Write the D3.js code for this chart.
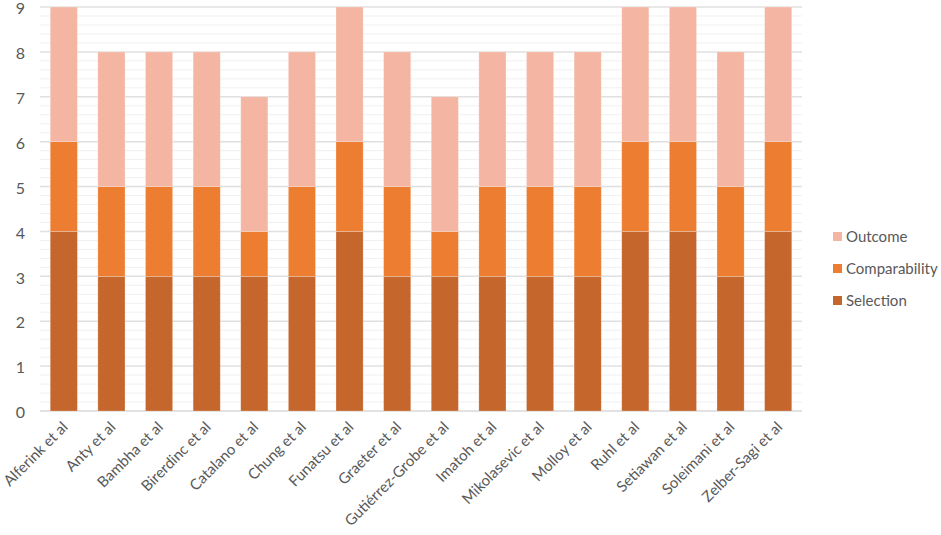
<!DOCTYPE html>
<html>
<head>
<meta charset="utf-8">
<script src="https://cdn.jsdelivr.net/npm/d3@7"></script>
<style>
  body { margin: 0; background: #fff; }
  text { font-family: Lato, "Open Sans", sans-serif; fill: #595959; }
</style>
</head>
<body>
<svg></svg>
<script>
const width = 941;
const height = 535;

const studies = [
    "Alferink et al", "Anty et al", "Bambha et al", "Birerdinc et al",
    "Catalano et al", "Chung et al", "Funatsu et al", "Graeter et al",
    "Gutiérrez-Grobe et al", "Imatoh et al", "Mikolasevic et al", "Molloy et al",
    "Ruhl et al", "Setiawan et al", "Soleimani et al", "Zelber-Sagi et al"
];
const selection     = [4, 3, 3, 3, 3, 3, 4, 3, 3, 3, 3, 3, 4, 4, 3, 4];
const comparability = [2, 2, 2, 2, 1, 2, 2, 2, 1, 2, 2, 2, 2, 2, 2, 2];
const outcome       = [3, 3, 3, 3, 3, 3, 3, 3, 3, 3, 3, 3, 3, 3, 3, 3];

const seriesNames = ["Selection", "Comparability", "Outcome"];
const seriesColors = ["#C5662C", "#ED7D31", "#F4B6A2"];
const yTicks = [0, 1, 2, 3, 4, 5, 6, 7, 8, 9];

const rows = studies.map((s, i) => ({
    study: s,
    Selection: selection[i],
    Comparability: comparability[i],
    Outcome: outcome[i]
}));

const svg = d3.select("svg")
    .attr("width", width)
    .attr("height", height);

const x = d3.scaleBand()
    .domain(studies)
    .range([40, 802])
    .paddingInner(0.43)
    .paddingOuter(0.215);

const y = d3.scaleLinear()
    .domain([0, 9])
    .range([411, 7]);

// Minor gridlines every 0.2
const minor = d3.range(0, 9.001, 0.2).filter(v => Math.abs(v - Math.round(v)) > 0.01);
svg.append("g")
    .selectAll("line")
    .data(minor)
    .join("line")
    .attr("x1", 40).attr("x2", 802)
    .attr("y1", d => y(d)).attr("y2", d => y(d))
    .attr("stroke", "#f0f0f0")
    .attr("stroke-width", 1);

// Major gridlines
svg.append("g")
    .selectAll("line")
    .data(yTicks)
    .join("line")
    .attr("x1", 40).attr("x2", 802)
    .attr("y1", d => y(d)).attr("y2", d => y(d))
    .attr("stroke", d => d === 0 ? "#d9d9d9" : "#e0e0e0")
    .attr("stroke-width", 1.5);

// Y tick labels
svg.append("g")
    .selectAll("text")
    .data(yTicks)
    .join("text")
    .attr("x", 25)
    .attr("y", d => y(d) + 1.5)
    .attr("dy", "0.36em")
    .attr("text-anchor", "end")
    .attr("font-size", 16)
    .text(d => d);

const stack = d3.stack().keys(seriesNames)(rows);

svg.append("g")
    .selectAll("g")
    .data(stack)
    .join("g")
    .attr("fill", (d, i) => seriesColors[i])
    .selectAll("rect")
    .data(d => d)
    .join("rect")
    .attr("x", d => x(d.data.study))
    .attr("width", x.bandwidth())
    .attr("y", d => y(d[1]))
    .attr("height", d => y(d[0]) - y(d[1]))
    .attr("stroke", "#fff")
    .attr("stroke-opacity", 0.35)
    .attr("stroke-width", 0.7);

// X labels, rotated
svg.append("g")
    .selectAll("text")
    .data(studies)
    .join("text")
    .attr("transform", d => `translate(${x(d) + x.bandwidth() / 2 + 5},${428}) rotate(-45)`)
    .attr("text-anchor", "end")
    .attr("font-size", 15)
    .text(d => d);

// Legend (Outcome on top)
const legendItems = seriesNames.slice().reverse();
const legendColors = seriesColors.slice().reverse();
const legend = svg.append("g")
    .selectAll("g")
    .data(legendItems)
    .join("g")
    .attr("transform", (d, i) => `translate(833,${237 + i * 32})`);

legend.append("rect")
    .attr("x", 0).attr("y", -5)
    .attr("width", 9).attr("height", 9)
    .attr("fill", (d, i) => legendColors[i]);

legend.append("text")
    .attr("x", 13)
    .attr("y", 0)
    .attr("dy", "0.35em")
    .attr("font-size", 15)
    .text(d => d);
</script>
</body>
</html>
